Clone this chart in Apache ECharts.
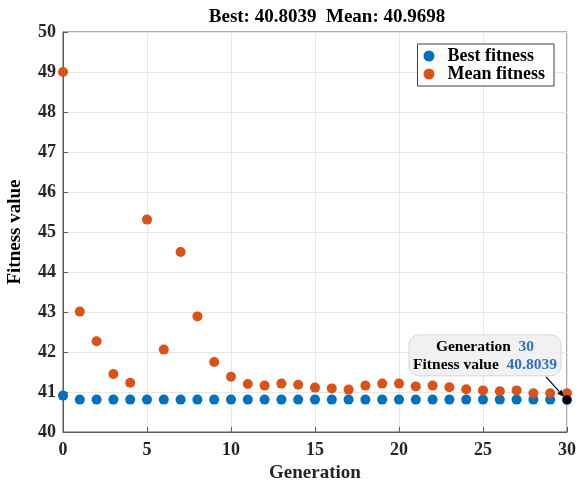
<!DOCTYPE html>
<html><head><meta charset="utf-8">
<script src="https://cdn.jsdelivr.net/npm/echarts@6/dist/echarts.min.js"></script>
<style>html,body{margin:0;padding:0;background:#fff}#c{width:580px;height:483px}</style>
</head><body><div id="c"></div>
<script>
const generations = [0,1,2,3,4,5,6,7,8,9,10,11,12,13,14,15,16,17,18,19,20,21,22,23,24,25,26,27,28,29,30];
const bestFitness = [40.91,40.81,40.81,40.81,40.81,40.81,40.81,40.81,40.81,40.81,40.81,40.81,40.81,40.81,40.81,40.81,40.81,40.81,40.81,40.81,40.81,40.81,40.81,40.81,40.81,40.81,40.81,40.81,40.81,40.81,40.8039];
const meanFitness = [49.0,43.01,42.27,41.45,41.23,45.31,42.06,44.5,42.89,41.75,41.38,41.2,41.16,41.21,41.18,41.11,41.09,41.06,41.16,41.21,41.21,41.14,41.16,41.12,41.07,41.04,41.02,41.04,40.97,40.97,40.9698];
const xTicks = [0,5,10,15,20,25,30];
const yTicks = [40,41,42,43,44,45,46,47,48,49,50];
const titleText = 'Best: 40.8039  Mean: 40.9698';

const FONT = 'Liberation Serif';
const AX = '#5a5a5a';
const chart = echarts.init(document.getElementById('c'));
const last = generations.length - 1;
const opt = {
  animation: false,
  backgroundColor: '#fff',
  title: {
    text: titleText, left: 322, top: 3, textAlign: 'center',
    textStyle: {fontFamily: FONT, fontWeight: 'bold', fontSize: 19, color: '#000'}
  },
  grid: {left: 63, right: 13, top: 32, bottom: 51, containLabel: false, outerBoundsMode: 'none',
    show: true, borderColor: AX, borderWidth: 1, backgroundColor: 'transparent'},
  legend: {
    data: ['Best fitness', 'Mean fitness'], orient: 'vertical', right: 26, top: 44,
    padding: [3, 9, 3, 6], itemGap: 0, itemWidth: 11, itemHeight: 11,
    borderColor: '#404040', borderWidth: 1, backgroundColor: '#fff', borderRadius: 0,
    icon: 'circle',
    textStyle: {fontFamily: FONT, fontWeight: 'bold', fontSize: 18, lineHeight: 17, color: '#000', padding: [0, 0, 0, 8]}
  },
  xAxis: {
    type: 'value', min: 0, max: 30, interval: 5,
    name: 'Generation', nameLocation: 'middle', nameGap: 31,
    nameTextStyle: {fontFamily: FONT, fontWeight: 'bold', fontSize: 19, color: '#262626'},
    axisLine: {show: true, lineStyle: {color: AX}},
    axisTick: {show: true, inside: true, length: 5, lineStyle: {color: AX}},
    axisLabel: {fontFamily: FONT, fontWeight: 'bold', fontSize: 18, color: '#262626', margin: 9,
      formatter: v => xTicks.includes(v) ? String(v) : ''},
    splitLine: {show: true, lineStyle: {color: '#e6e6e6', width: 1}}
  },
  yAxis: {
    type: 'value', min: 40, max: 50, interval: 1,
    name: 'Fitness value', nameLocation: 'middle', nameGap: 38,
    nameTextStyle: {fontFamily: FONT, fontWeight: 'bold', fontSize: 19, color: '#000'},
    axisLine: {show: true, lineStyle: {color: AX}},
    axisTick: {show: true, inside: true, length: 5, lineStyle: {color: AX}},
    axisLabel: {fontFamily: FONT, fontWeight: 'bold', fontSize: 18, color: '#262626', margin: 7,
      formatter: v => yTicks.includes(v) ? String(v) : ''},
    splitLine: {show: true, lineStyle: {color: '#e6e6e6', width: 1}}
  },
  series: [
    {name: 'Best fitness', type: 'scatter', symbolSize: 10, clip: false,
      itemStyle: {color: '#0072BD', opacity: 1},
      data: generations.map((g, i) => [g, bestFitness[i]])},
    {name: 'Mean fitness', type: 'scatter', symbolSize: 10, clip: false,
      itemStyle: {color: '#D95319', opacity: 1},
      data: generations.map((g, i) => [g, meanFitness[i]])},
    {name: 'tip', type: 'scatter', symbolSize: 9, clip: false, z: 5,
      itemStyle: {color: '#000', opacity: 1},
      data: [[generations[last], bestFitness[last]]]}
  ]
};
chart.setOption(opt);

const p = chart.convertToPixel({gridIndex: 0}, [generations[last], bestFitness[last]]);
const bw = 152, bh = 41;
const bx = p[0] - 6 - bw, by = p[1] - 24 - bh;
const x1 = p[0] - 21, y1 = by + bh + 1, x2 = p[0] - 3, y2 = p[1] - 3;
const ang = Math.atan2(y2 - y1, x2 - x1), AL = 7, AW = 3;
const hx = x2 - AL * Math.cos(ang), hy = y2 - AL * Math.sin(ang);
chart.setOption({
  graphic: [
    {type: 'rect', shape: {x: bx, y: by, width: bw, height: bh, r: 10}, z: 100,
      style: {fill: 'rgba(240,240,240,0.92)', stroke: '#d4d4d4', lineWidth: 1}},
    {type: 'text', x: bx + bw / 2, y: by + bh / 2 + 1, z: 101,
      style: {
        text: '{b|Generation}  {v|' + generations[last] + '}\n{b|Fitness value}  {v|' + bestFitness[last].toFixed(4) + '}',
        align: 'center', verticalAlign: 'middle', lineHeight: 18,
        fontFamily: FONT, fontWeight: 'bold', fontSize: 15.5,
        rich: {
          b: {fontFamily: FONT, fontWeight: 'bold', fontSize: 15.5, fill: '#000', lineHeight: 18},
          v: {fontFamily: FONT, fontWeight: 'bold', fontSize: 15.5, fill: '#2C72C0', lineHeight: 18}
        }
      }},
    {type: 'line', z: 102, shape: {x1: x1, y1: y1, x2: hx, y2: hy},
      style: {stroke: '#000', lineWidth: 1.2}},
    {type: 'polygon', z: 102,
      shape: {points: [[x2, y2], [hx + AW * Math.sin(ang), hy - AW * Math.cos(ang)], [hx - AW * Math.sin(ang), hy + AW * Math.cos(ang)]]},
      style: {fill: '#000'}}
  ]
});
</script></body></html>
